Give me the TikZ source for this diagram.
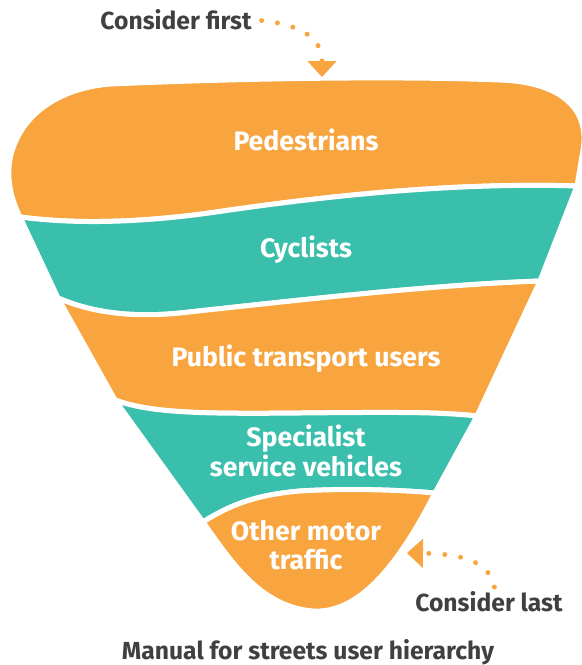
\documentclass[tikz,border=0pt]{standalone}
\usepackage{fontspec}
\setmainfont{Fira Sans}
\usetikzlibrary{arrows.meta}
\definecolor{mfsorange}{HTML}{F8A540}
\definecolor{mfsteal}{HTML}{3BBFAD}
\definecolor{mfsgrey}{HTML}{404040}
\tikzset{
  band/.style={draw=white, line width=3.75pt, line join=round},
  bandlabel/.style={text=white, font=\bfseries\fontsize{20}{22}\selectfont, align=center},
  notelabel/.style={text=mfsgrey, font=\bfseries\fontsize{18.5}{20}\selectfont},
  dotline/.style={draw=mfsorange, line width=3.75pt, line cap=round, dash pattern=on 0pt off 12pt},
}

\begin{document}
\begin{tikzpicture}[x=0.75pt, y=-0.75pt]
  %%%%% START %%%%%
  \useasboundingbox (0,0) rectangle (582,665);
  \fill[white] (0,0) rectangle (582,665);

  % pedestrians
  \filldraw[band, fill=mfsorange] (20,217) .. controls (9,195) and (5,170) .. (13,148) .. controls (30,100) and (80,86) .. (111,84) .. controls (250,78) and (400,76) .. (500,80) .. controls (562,82) and (590,110) .. (583,150) -- (577,186) .. controls (450,182) and (320,197) .. (223,211) .. controls (150,222) and (80,225) .. (20,217) -- cycle;
  % cyclists
  \filldraw[band, fill=mfsteal] (20,217) .. controls (80,225) and (150,222) .. (223,211) .. controls (320,197) and (450,182) .. (577,186) -- (540,281) .. controls (430,285) and (300,300) .. (180,313) .. controls (130,318) and (90,312) .. (58,298) -- cycle;
  % public transport
  \filldraw[band, fill=mfsorange] (58,298) .. controls (90,312) and (130,318) .. (180,313) .. controls (300,300) and (430,285) .. (540,281) -- (477,416) .. controls (440,412) and (400,412) .. (300,413) .. controls (200,414) and (150,413) .. (115,400) -- cycle;
  % specialist
  \filldraw[band, fill=mfsteal] (115,400) .. controls (150,413) and (200,414) .. (300,413) .. controls (400,412) and (440,412) .. (477,416) -- (435,493) .. controls (400,490) and (350,488) .. (300,491) .. controls (255,495) and (230,505) .. (203,522) -- cycle;
  % other motor traffic
  \filldraw[band, fill=mfsorange] (203,522) .. controls (230,505) and (255,495) .. (300,491) .. controls (350,488) and (400,490) .. (435,493) .. controls (400,562) and (360,614) .. (313,611) .. controls (260,607) and (230,560) .. (203,522) -- cycle;

  \node[bandlabel] (ped) at (306,140) {Pedestrians};
  \node[bandlabel] (cyc) at (306,250) {Cyclists};
  \node[bandlabel] (pub) at (306,359) {Public transport users};
  \node[bandlabel] (spec) at (306,451) {Specialist\\service vehicles};
  \node[bandlabel] (other) at (306,545) {Other motor\\traffic};

  \node[notelabel] (first) at (176,20) {Consider first};
  \node[notelabel] (last) at (489,602) {Consider last};
  \node[notelabel] (title) at (308,652) {Manual for streets user hierarchy};

  % arrows
  \coordinate (firsttip) at (322,77);
  \coordinate (lasttip) at (407,553);
  \draw[dotline, shorten <=4pt, -{Triangle[length=12pt, width=22pt, line width=0pt]}] (first.east) .. controls (295,24) and (322,35) .. (firsttip);
  \draw[dotline, -{Triangle[length=12pt, width=22pt, line width=0pt]}] ([xshift=4pt]last.north) .. controls (490,565) and (470,554) .. (lasttip);

  %%%%% END %%%%%
\end{tikzpicture}
\end{document}
